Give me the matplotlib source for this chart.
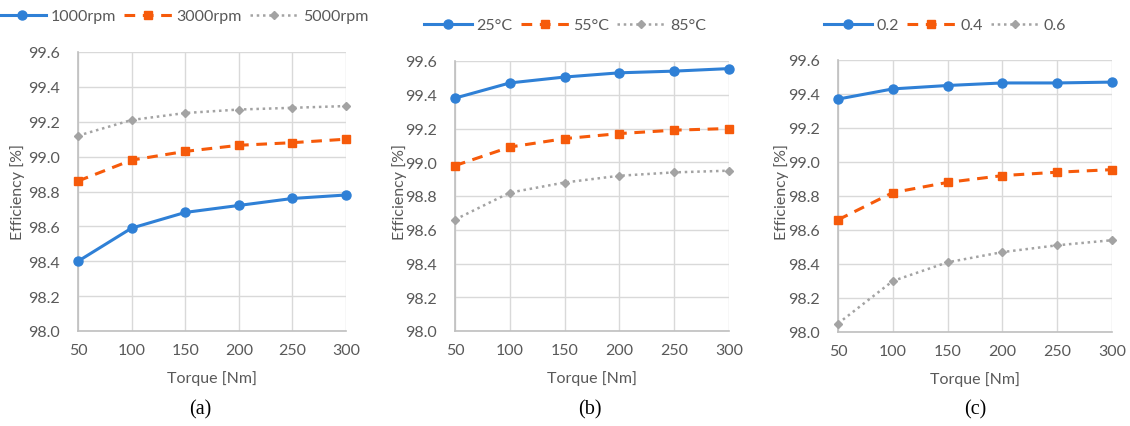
import matplotlib
matplotlib.use('Agg')
import matplotlib.pyplot as plt
from matplotlib.ticker import MultipleLocator, FormatStrFormatter

plt.rcParams['font.family'] = ['Lato', 'DejaVu Sans']

torque = [50, 100, 150, 200, 250, 300]

# (a) speed
rpm_labels = ['1000rpm', '3000rpm', '5000rpm']
eff_1000 = [98.40, 98.59, 98.68, 98.72, 98.76, 98.78]
eff_3000 = [98.86, 98.98, 99.03, 99.065, 99.08, 99.10]
eff_5000 = [99.12, 99.21, 99.25, 99.27, 99.28, 99.29]

# (b) temperature
temp_labels = ['25°C', '55°C', '85°C']
eff_25 = [99.38, 99.47, 99.505, 99.53, 99.54, 99.555]
eff_55 = [98.98, 99.09, 99.14, 99.17, 99.19, 99.20]
eff_85 = [98.66, 98.82, 98.88, 98.92, 98.94, 98.95]

# (c) modulation
mod_labels = ['0.2', '0.4', '0.6']
eff_02 = [99.37, 99.43, 99.45, 99.465, 99.465, 99.47]
eff_04 = [98.66, 98.82, 98.88, 98.92, 98.94, 98.955]
eff_06 = [98.05, 98.30, 98.41, 98.47, 98.51, 98.54]

BLUE = '#2F80D6'
ORANGE = '#F65A0A'
GRAY = '#A3A3A3'
TXT = '#595959'

W, H = 1130, 427
fig = plt.figure(figsize=(W / 100, H / 100), dpi=100)


def px_axes(left, right, top, bottom):
    return fig.add_axes([left / W, 1 - bottom / H, (right - left) / W, (bottom - top) / H])


def draw_panel(ax, series, labels, leg_center, ylab_x, caption, cap_x):
    styles = [
        dict(color=BLUE, ls='-', lw=2.2, marker='o', ms=6.5),
        dict(color=ORANGE, ls=(0, (3.5, 2.5)), lw=2.2, marker='s', ms=6),
        dict(color=GRAY, ls=(0, (1, 1.5)), lw=1.8, marker='D', ms=4.5),
    ]
    for vals, lab, st in zip(series, labels, styles):
        ax.plot(torque, vals, label=lab, color=st['color'], ls=st['ls'], lw=st['lw'],
                marker=st['marker'], ms=st['ms'], mec=st['color'], mfc=st['color'],
                clip_on=False, zorder=3)
    ax.set_xlim(50, 300)
    ax.set_ylim(98.0, 99.6)
    ax.set_xticks(torque)
    ax.yaxis.set_major_locator(MultipleLocator(0.2))
    ax.yaxis.set_major_formatter(FormatStrFormatter('%.1f'))
    ax.grid(True, color='#D9D9D9', lw=1)
    ax.set_axisbelow(True)
    for s in ['top', 'right']:
        ax.spines[s].set_visible(False)
    for s in ['left', 'bottom']:
        ax.spines[s].set_color('#BFBFBF')
        ax.spines[s].set_linewidth(1.2)
    ax.tick_params(length=0, labelsize=11.5, colors=TXT)
    ax.tick_params(axis='y', pad=13)
    ax.tick_params(axis='x', pad=9)
    ax.set_xlabel('Torque [Nm]', fontsize=11.5, color=TXT, labelpad=9)
    fig.text(ylab_x / W, 0.55, 'Efficiency [%]', rotation=90, ha='center', va='center',
             fontsize=11.5, color=TXT)
    fig.text(cap_x / W, 1 - 410 / H, caption, ha='center', va='center', fontsize=14.5,
             family='Liberation Serif')
    fig.legend(*ax.get_legend_handles_labels(), loc='center', ncol=3, frameon=False,
               bbox_to_anchor=(leg_center[0] / W, 1 - leg_center[1] / H),
               fontsize=11.5, handlelength=3.0, handletextpad=0.3, columnspacing=0.5,
               labelcolor=TXT)


ax_a = px_axes(78, 346, 53, 332)
draw_panel(ax_a, [eff_1000, eff_3000, eff_5000], rpm_labels, (183, 17), 18, '(a)', 200)

ax_b = px_axes(455, 729, 62, 332)
draw_panel(ax_b, [eff_25, eff_55, eff_85], temp_labels, (565, 26), 400, '(b)', 590)

ax_c = px_axes(838, 1112, 61, 333)
draw_panel(ax_c, [eff_02, eff_04, eff_06], mod_labels, (945, 26), 782, '(c)', 975)

fig.savefig('out.png', dpi=100)
plt.close(fig)
